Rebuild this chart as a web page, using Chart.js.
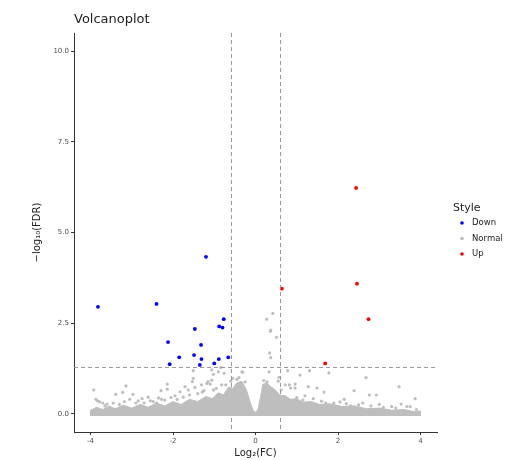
<!DOCTYPE html>
<html>
<head>
<meta charset="utf-8">
<script src="https://cdn.jsdelivr.net/npm/chart.js@4.4.1/dist/chart.umd.min.js"></script>
<style>
html, body { margin: 0; padding: 0; background: #fff; }
</style>
</head>
<body>
<canvas id="volcanoChart" width="505" height="460"></canvas>
<script>
// significant points, [log2FC, -log10FDR]
var downPoints = [
    [-3.82, 2.95], [-2.40, 3.03], [-2.12, 1.98], [-2.08, 1.37], [-1.85, 1.56],
    [-1.47, 2.34], [-1.49, 1.62], [-1.32, 1.90], [-1.31, 1.51], [-1.35, 1.35],
    [-1.20, 4.33], [-1.00, 1.39], [-0.89, 1.51], [-0.88, 2.41], [-0.80, 2.38],
    [-0.77, 2.61], [-0.66, 1.56]
];
var upPoints = [
    [0.64, 3.45], [2.44, 6.23], [2.46, 3.59], [2.74, 2.61], [1.69, 1.39]
];
// scattered normal genes above the dense band
var normalPoints = [
    [-3.92, 0.66], [-3.87, 0.40], [-3.83, 0.36], [-3.78, 0.33], [-3.70, 0.30], [-3.60, 0.27],
    [-3.39, 0.54], [-3.22, 0.59], [-3.14, 0.77], [-3.05, 0.40], [-2.97, 0.54], [-2.90, 0.30],
    [-2.84, 0.36], [-2.75, 0.42], [-2.60, 0.46], [-2.48, 0.34], [-2.40, 0.30], [-2.29, 0.64],
    [-2.28, 0.40], [-2.14, 0.82], [-2.14, 0.68], [-2.05, 0.45], [-1.95, 0.50], [-1.83, 0.61],
    [-1.71, 0.75], [-1.63, 0.66], [-1.53, 0.89], [-1.51, 1.19], [-1.51, 0.98], [-1.47, 0.73],
    [-1.31, 0.80], [-1.29, 0.60], [-1.18, 0.84], [-1.15, 0.89], [-1.10, 0.82], [-1.06, 0.93],
    [-1.06, 1.21], [-1.02, 1.09], [-1.02, 0.66], [-0.90, 1.16], [-0.84, 1.28], [-0.82, 0.80],
    [-0.76, 1.12], [-0.72, 0.80], [-0.60, 0.90], [-0.45, 0.95], [-0.33, 1.16], [-0.31, 1.15],
    [-3.65, 0.22], [-3.45, 0.30], [-3.30, 0.26], [-3.18, 0.34], [-2.70, 0.30], [-2.55, 0.36],
    [-2.35, 0.44], [-2.20, 0.38], [-1.90, 0.40], [-1.75, 0.46], [-1.60, 0.52], [-1.40, 0.56],
    [-1.25, 0.64], [-0.95, 0.70], [-0.55, 0.98], [-0.40, 1.00], [-0.25, 0.88],
    [0.27, 2.61], [0.42, 2.77], [0.37, 2.31], [0.36, 2.28], [0.51, 2.11], [0.34, 1.68],
    [0.37, 1.55], [0.33, 1.16], [0.57, 1.01], [0.55, 0.90], [0.78, 1.19], [0.72, 0.80],
    [0.82, 0.80], [0.96, 0.82], [0.85, 0.71], [0.96, 0.71], [1.08, 1.07], [1.28, 0.75],
    [1.31, 1.19], [1.49, 0.71], [1.66, 0.60], [1.78, 1.13], [2.15, 0.40], [2.39, 0.64],
    [2.68, 1.00], [2.76, 0.52], [2.93, 0.52], [3.48, 0.75], [3.53, 0.27], [3.67, 0.20],
    [3.75, 0.20], [3.87, 0.42], [1.00, 0.45], [1.20, 0.50], [1.40, 0.42], [1.60, 0.35],
    [1.90, 0.30], [2.20, 0.28], [2.50, 0.25], [2.80, 0.22], [3.10, 0.18], [3.30, 0.20],
    [3.90, 0.12], [2.05, 0.33], [2.60, 0.30], [3.00, 0.26], [0.20, 0.92], [0.28, 0.88],
    [0.62, 0.66], [1.15, 0.38], [1.70, 0.30], [2.30, 0.22], [3.40, 0.16]
];
// outline of the dense band of normal genes near zero
var normalEnvelope = [
    [-4.0, -0.06], [-4.0, 0.10], [-3.85, 0.18], [-3.7, 0.12], [-3.55, 0.22], [-3.4, 0.14],
    [-3.2, 0.24], [-3.0, 0.16], [-2.8, 0.26], [-2.6, 0.18], [-2.4, 0.30], [-2.2, 0.22],
    [-2.0, 0.34], [-1.8, 0.26], [-1.6, 0.40], [-1.4, 0.34], [-1.2, 0.48], [-1.05, 0.42],
    [-0.9, 0.58], [-0.78, 0.52], [-0.65, 0.74], [-0.55, 0.70], [-0.45, 0.86], [-0.33, 0.90],
    [-0.22, 0.66], [-0.14, 0.36], [-0.06, 0.10], [0.0, 0.04], [0.06, 0.12], [0.12, 0.45],
    [0.18, 0.82], [0.28, 0.84], [0.38, 0.74], [0.48, 0.66], [0.58, 0.52], [0.72, 0.50],
    [0.85, 0.40], [1.0, 0.42], [1.15, 0.32], [1.35, 0.34], [1.55, 0.26], [1.8, 0.28],
    [2.1, 0.20], [2.4, 0.22], [2.7, 0.14], [3.0, 0.16], [3.3, 0.10], [3.6, 0.12],
    [3.85, 0.06], [4.0, 0.08], [4.0, -0.06]
];
var xTicks = [-4, -2, 0, 2, 4];
var yTicks = [0, 2.5, 5, 7.5, 10];
var fcCut = Math.log2(1.5);
var fdrCut = -Math.log10(0.05);
var legendLabels = ['Down', 'Normal', 'Up'];
var legendColors = ['#0000ff', '#bebebe', '#ff0000'];

var fontFamily = '"DejaVu Sans", sans-serif';

var decorPlugin = {
    id: 'decor',
    afterDatasetDraw: function (chart, args) {
        if (args.index !== 1) return;
        var ctx = chart.ctx;
        var area = chart.chartArea;
        var xs = chart.scales.x, ys = chart.scales.y;
        ctx.save();
        ctx.strokeStyle = '#9a9a9a';
        ctx.lineWidth = 1;
        ctx.setLineDash([4, 3]);
        [-fcCut, fcCut].forEach(function (v) {
            var px = Math.round(xs.getPixelForValue(v)) + 0.5;
            ctx.beginPath();
            ctx.moveTo(px, area.top);
            ctx.lineTo(px, area.bottom);
            ctx.stroke();
        });
        var py = Math.round(ys.getPixelForValue(fdrCut)) + 0.5;
        ctx.beginPath();
        ctx.moveTo(area.left, py);
        ctx.lineTo(area.right, py);
        ctx.stroke();
        ctx.restore();
    },
    afterDraw: function (chart) {
        var ctx = chart.ctx;
        var area = chart.chartArea;
        ctx.save();
        ctx.fillStyle = '#222';
        ctx.font = '13px ' + fontFamily;
        ctx.textBaseline = 'middle';
        ctx.textAlign = 'left';
        ctx.fillText('Volcanoplot', area.left, 20);

        // legend
        var lx = area.right + 16;
        ctx.font = '11px ' + fontFamily;
        ctx.fillStyle = '#222';
        ctx.fillText('Style', lx, 208);
        ctx.font = '8.5px ' + fontFamily;
        for (var i = 0; i < legendLabels.length; i++) {
            var ly = 223 + i * 15.5;
            ctx.fillStyle = legendColors[i];
            ctx.beginPath();
            ctx.arc(lx + 9, ly, 1.8, 0, Math.PI * 2);
            ctx.fill();
            ctx.fillStyle = '#222';
            ctx.fillText(legendLabels[i], lx + 19, ly);
        }
        ctx.restore();
    }
};

var axisGrid = {
    drawOnChartArea: false,
    drawTicks: true,
    tickLength: 3,
    tickColor: '#333'
};

new Chart(document.getElementById('volcanoChart').getContext('2d'), {
    type: 'scatter',
    data: {
        datasets: [
            {
                label: 'band',
                type: 'line',
                data: normalEnvelope,
                showLine: true,
                tension: 0,
                borderColor: '#bebebe',
                borderWidth: 1,
                backgroundColor: '#bebebe',
                pointRadius: 0,
                fill: { value: -0.06 }
            },
            {
                label: 'Normal',
                data: normalPoints,
                backgroundColor: '#bebebe',
                borderWidth: 0,
                pointRadius: 1.6
            },
            {
                label: 'Down',
                data: downPoints,
                backgroundColor: '#0000ff',
                borderWidth: 0,
                pointRadius: 1.9
            },
            {
                label: 'Up',
                data: upPoints,
                backgroundColor: '#ff0000',
                borderWidth: 0,
                pointRadius: 1.9
            }
        ]
    },
    options: {
        responsive: false,
        animation: false,
        layout: { padding: { left: 0, top: 33, right: 68, bottom: 0 } },
        plugins: {
            legend: { display: false },
            title: { display: false },
            tooltip: { enabled: false }
        },
        scales: {
            x: {
                type: 'linear',
                min: -4.4,
                max: 4.4,
                afterFit: function (scale) { scale.height = 28; },
                afterBuildTicks: function (scale) {
                    scale.ticks = xTicks.map(function (v) { return { value: v }; });
                },
                ticks: {
                    color: '#4d4d4d',
                    font: { family: fontFamily, size: 7 },
                    padding: 2,
                    maxRotation: 0,
                    callback: function (v) { return String(v); }
                },
                grid: axisGrid,
                border: { display: true, color: '#333', width: 1 },
                title: {
                    display: true,
                    text: 'Log\u2082(FC)',
                    color: '#222',
                    font: { family: fontFamily, size: 10 },
                    padding: { top: 0, bottom: 1 }
                }
            },
            y: {
                type: 'linear',
                min: -0.5,
                max: 10.5,
                afterFit: function (scale) { scale.width = 74; },
                afterBuildTicks: function (scale) {
                    scale.ticks = yTicks.map(function (v) { return { value: v }; });
                },
                ticks: {
                    color: '#4d4d4d',
                    font: { family: fontFamily, size: 7 },
                    padding: 2,
                    callback: function (v) { return Number(v).toFixed(1); }
                },
                grid: axisGrid,
                border: { display: true, color: '#333', width: 1 },
                title: {
                    display: true,
                    text: '\u2212log\u2081\u2080(FDR)',
                    color: '#222',
                    font: { family: fontFamily, size: 10 },
                    padding: { top: 31, bottom: 0 }
                }
            }
        }
    },
    plugins: [decorPlugin]
});
</script>
</body>
</html>
